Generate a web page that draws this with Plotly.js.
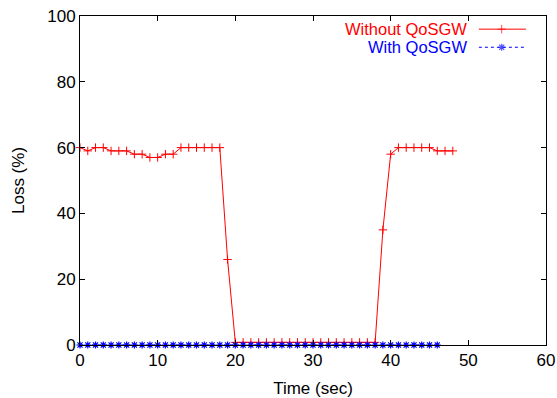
<!DOCTYPE html>
<html>
<head>
<meta charset="utf-8">
<script src="https://cdn.plot.ly/plotly-3.0.1.min.js"></script>
<style>html,body{margin:0;padding:0;background:#fff;}#chart{width:557px;height:398px;}</style>
</head>
<body>
<div id="chart"></div>
<script>
// Data (time in seconds, loss in %)
var timeWithout = [0,1,2,3,4,5,6,7,8,9,10,11,12,13,14,15,16,17,18,19,20,21,22,23,24,25,26,27,28,29,30,31,32,33,34,35,36,37,38,39,40,41,42,43,44,45,46,47,48];
var lossWithout = [60,59,60,60,59,59,59,58,58,57,57,58,58,60,60,60,60,60,60,26,0.8,0.8,0.8,0.8,0.8,0.8,0.8,0.8,0.8,0.8,0.8,0.8,0.8,0.8,0.8,0.8,0.8,0.8,0.8,35,58,60,60,60,60,60,59,59,59];
var timeWith = [0,1,2,3,4,5,6,7,8,9,10,11,12,13,14,15,16,17,18,19,20,21,22,23,24,25,26,27,28,29,30,31,32,33,34,35,36,37,38,39,40,41,42,43,44,45,46];
var lossWith = [0,0,0,0,0,0,0,0,0,0,0,0,0,0,0,0,0,0,0,0,0,0,0,0,0,0,0,0,0,0,0,0,0,0,0,0,0,0,0,0,0,0,0,0,0,0,0];
var seriesNames = ["Without QoSGW", "With QoSGW"];
var xTicks = [0,10,20,30,40,50,60];
var yTicks = [0,20,40,60,80,100];

var FONT = "Liberation Sans, Arial, Helvetica, sans-serif";
var RED = "#ff0000", BLUE = "#0000ff";

// legend sample geometry on a hidden 0..1 overlay axis
var legX = [0.856, 0.905, 0.957];
var legYRed = 0.960, legYBlue = 0.905;

var traces = [
  {x: timeWithout, y: lossWithout, type: "scatter", mode: "lines+markers", name: seriesNames[0],
   line: {color: RED, width: 1}, marker: {symbol: "cross-thin-open", size: 6, color: RED, line: {color: RED, width: 1}},
   cliponaxis: false, showlegend: false},
  {x: timeWith, y: lossWith, type: "scatter", mode: "lines+markers", name: seriesNames[1],
   line: {color: BLUE, width: 1, dash: "dot"}, marker: {symbol: "asterisk-open", size: 6, color: BLUE, line: {color: BLUE, width: 1.2}},
   cliponaxis: false, showlegend: false},
  // legend samples
  {x: legX, y: [legYRed, legYRed, legYRed], xaxis: "x2", yaxis: "y2", type: "scatter", mode: "lines+markers",
   line: {color: RED, width: 1}, marker: {symbol: "cross-thin-open", size: [0,6,0], color: RED, line: {color: RED, width: 1}},
   showlegend: false, hoverinfo: "skip"},
  {x: legX, y: [legYBlue, legYBlue, legYBlue], xaxis: "x2", yaxis: "y2", type: "scatter", mode: "lines+markers",
   line: {color: BLUE, width: 1, dash: "dot"}, marker: {symbol: "asterisk-open", size: [0,6,0], color: BLUE, line: {color: BLUE, width: 1.2}},
   showlegend: false, hoverinfo: "skip"}
];

var layout = {
  width: 557, height: 398,
  margin: {l: 80, r: 11, t: 16, b: 53, pad: 0},
  paper_bgcolor: "#fff", plot_bgcolor: "#fff",
  font: {family: FONT, size: 17, color: "#000"},
  showlegend: false,
  xaxis: {
    range: [0, 60], tickvals: xTicks, ticktext: xTicks.map(String),
    showgrid: false, zeroline: false, showline: true, linecolor: "#000", linewidth: 1, mirror: "allticks",
    ticks: "inside", ticklen: 5, tickcolor: "#000", tickwidth: 1,
    tickfont: {family: FONT, size: 17, color: "#000"},
    title: {text: "Time (sec)", font: {family: FONT, size: 17, color: "#000"}, standoff: 13},
    automargin: false
  },
  yaxis: {
    range: [0, 100], tickvals: yTicks, ticktext: yTicks.map(String),
    showgrid: false, zeroline: false, showline: true, linecolor: "#000", linewidth: 1, mirror: "allticks",
    ticks: "inside", ticklen: 5, tickcolor: "#000", tickwidth: 1,
    tickfont: {family: FONT, size: 17, color: "#000"},
    title: {text: "Loss (%)", font: {family: FONT, size: 17, color: "#000"}, standoff: 18},
    automargin: false
  },
  xaxis2: {overlaying: "x", range: [0, 1], visible: false, fixedrange: true},
  yaxis2: {overlaying: "y", range: [0, 1], visible: false, fixedrange: true},
  annotations: [
    {xref: "paper", yref: "paper", x: 0.833, y: legYRed, xanchor: "right", yanchor: "middle", showarrow: false,
     text: seriesNames[0], font: {family: FONT, size: 16.5, color: RED}, borderpad: 0},
    {xref: "paper", yref: "paper", x: 0.833, y: legYBlue, xanchor: "right", yanchor: "middle", showarrow: false,
     text: seriesNames[1], font: {family: FONT, size: 16.5, color: BLUE}, borderpad: 0}
  ]
};

Plotly.newPlot("chart", traces, layout, {displayModeBar: false, staticPlot: true});
</script>
</body>
</html>
